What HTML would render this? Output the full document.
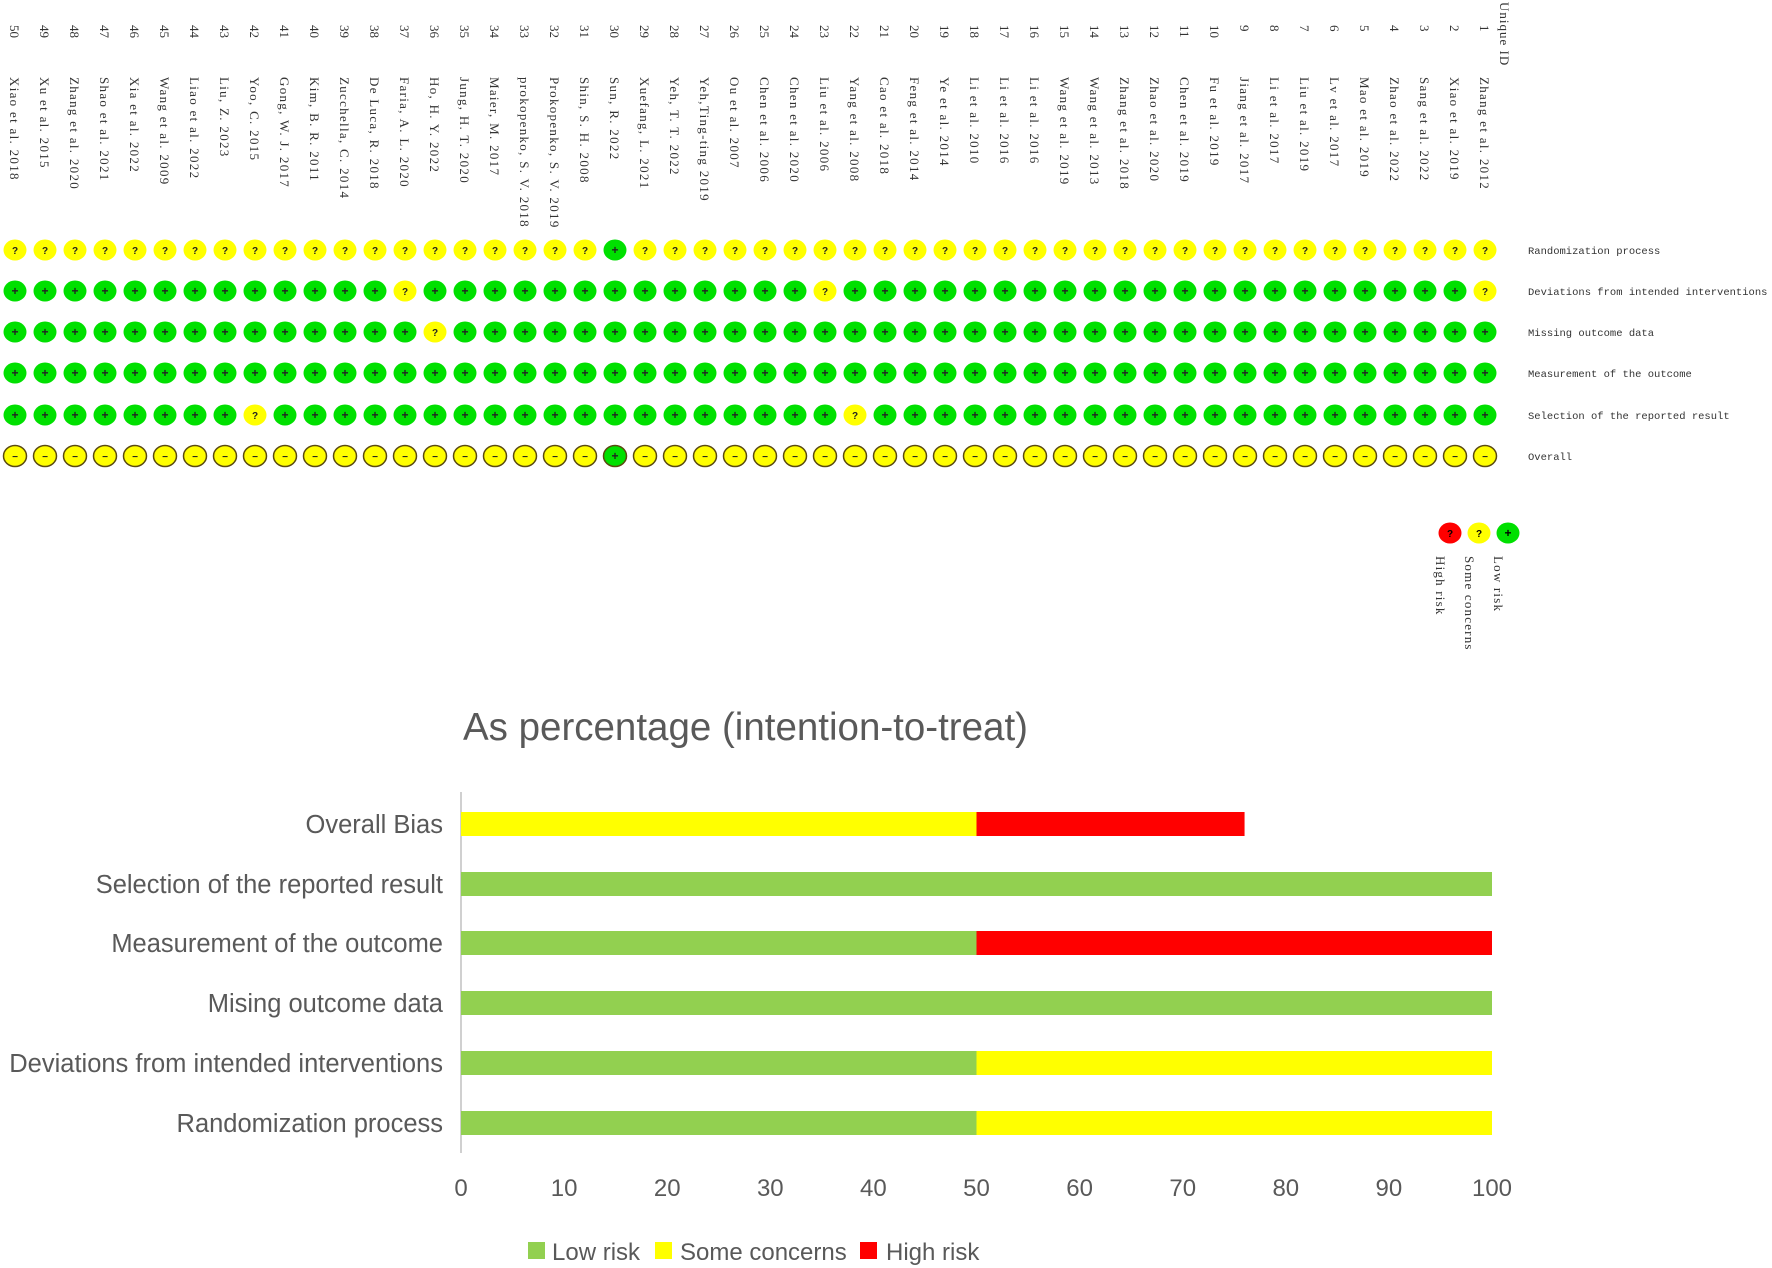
<!DOCTYPE html>
<html><head><meta charset="utf-8"><style>
html,body{margin:0;padding:0;background:#fff;}
svg{display:block;}
</style></head><body>
<svg id="s" width="1772" height="1268" xmlns="http://www.w3.org/2000/svg">
<rect width="1772" height="1268" fill="#fff"/>
<g id="topg"></g>
<g font-family="Liberation Mono, monospace" font-size="10.5" fill="#333">
<text x="1528" y="254">Randomization process</text>
<text x="1528" y="295">Deviations from intended interventions</text>
<text x="1528" y="336">Missing outcome data</text>
<text x="1528" y="377">Measurement of the outcome</text>
<text x="1528" y="419">Selection of the reported result</text>
<text x="1528" y="460">Overall</text>
</g>
<text transform="translate(1500,2) rotate(90)" font-family="Liberation Serif, serif" font-size="13" fill="#333" letter-spacing="1">Unique ID</text>
<ellipse cx="1450" cy="533" rx="11.5" ry="10.5" fill="#ff0000"/><text x="1450" y="537" text-anchor="middle" font-size="10" font-weight="bold" font-family="Liberation Sans">?</text>
<ellipse cx="1479" cy="533" rx="11.5" ry="10.5" fill="#ffff00"/><text x="1479" y="537" text-anchor="middle" font-size="10" font-weight="bold" font-family="Liberation Sans">?</text>
<ellipse cx="1508" cy="533" rx="11.5" ry="10.5" fill="#00e000"/><text x="1508" y="537" text-anchor="middle" font-size="12" font-weight="bold" font-family="Liberation Sans">+</text>
<g font-family="Liberation Serif, serif" font-size="13" fill="#333" letter-spacing="1.2">
<text transform="translate(1436,556) rotate(90)">High risk</text>
<text transform="translate(1465,556) rotate(90)">Some concerns</text>
<text transform="translate(1494,556) rotate(90)">Low risk</text>
</g>
<text x="463" y="740" font-family="Liberation Sans, sans-serif" font-size="38.5" fill="#595959">As percentage (intention-to-treat)</text>
<line x1="461" y1="792" x2="461" y2="1153" stroke="#d0d0d0" stroke-width="2"/>
<g id="bars"></g>
<g font-family="Liberation Sans, sans-serif" font-size="25.5" fill="#595959" text-anchor="end">
<text x="443" y="833">Overall Bias</text>
<text x="443" y="893">Selection of the reported result</text>
<text x="443" y="952">Measurement of the outcome</text>
<text x="443" y="1012">Mising outcome data</text>
<text x="443" y="1072">Deviations from intended interventions</text>
<text x="443" y="1132">Randomization process</text>
</g>
<g id="ticks" font-family="Liberation Sans, sans-serif" font-size="24" fill="#595959" text-anchor="middle"></g>
<g font-family="Liberation Sans, sans-serif" font-size="24" fill="#595959">
<rect x="528" y="1242" width="17" height="17" fill="#92d050"/><text x="552" y="1260">Low risk</text>
<rect x="655" y="1242" width="17" height="17" fill="#ffff00"/><text x="680" y="1260">Some concerns</text>
<rect x="860" y="1242" width="17" height="17" fill="#ff0000"/><text x="886" y="1260">High risk</text>
</g>
</svg>
<script>
(function(){
var NS="http://www.w3.org/2000/svg";
var names=["Zhang et al. 2012","Xiao et al. 2019","Sang et al. 2022","Zhao et al. 2022","Mao et al. 2019","Lv et al. 2017","Liu et al. 2019","Li et al. 2017","Jiang et al. 2017","Fu et al. 2019","Chen et al. 2019","Zhao et al. 2020","Zhang et al. 2018","Wang et al. 2013","Wang et al. 2019","Li et al. 2016","Li et al. 2016","Li et al. 2010","Ye et al. 2014","Feng et al. 2014","Cao et al. 2018","Yang et al. 2008","Liu et al. 2006","Chen et al. 2020","Chen et al. 2006","Ou et al. 2007","Yeh,Ting-ting 2019","Yeh, T. T. 2022","Xuefang, L. 2021","Sun, R. 2022","Shin, S. H. 2008","Prokopenko, S. V. 2019","prokopenko, S. V. 2018","Maier, M. 2017","Jung, H. T. 2020","Ho, H. Y. 2022","Faria, A. L. 2020","De Luca, R. 2018","Zucchella, C. 2014","Kim, B. R. 2011","Gong, W. J. 2017","Yoo, C. 2015","Liu, Z. 2023","Liao et al. 2022","Wang et al. 2009","Xia et al. 2022","Shao et al. 2021","Zhang et al. 2020","Xu et al. 2015","Xiao et al. 2018"];
var rows=[250,291,332,373,415,456];
var exc={"0_30":"g","1_1":"y","1_23":"y","1_37":"y","2_36":"y","4_22":"y","4_42":"y","5_30":"g"};
var tg=document.getElementById("topg");
function el(t,a,p,txt){var e=document.createElementNS(NS,t);for(var k in a)e.setAttribute(k,a[k]);if(txt!=null)e.textContent=txt;(p||tg).appendChild(e);return e;}
for(var i=1;i<=50;i++){
 var x=1485-(i-1)*30;
 el("text",{transform:"translate("+(x-5)+",25) rotate(90)","font-family":"Liberation Serif, serif","font-size":"13",fill:"#333"},null,String(i));
 el("text",{transform:"translate("+(x-5)+",77) rotate(90)","font-family":"Liberation Serif, serif","font-size":"13",fill:"#333","letter-spacing":"1.3"},null,names[i-1]);
 for(var r=0;r<6;r++){
  var y=rows[r];var d=(r==0||r==5)?"y":"g";var k=r+"_"+i;if(exc[k])d=exc[k];
  var fill=d=="g"?"#00e000":"#ffff00";
  var a={cx:x,cy:y,rx:11.5,ry:10.5,fill:fill};
  if(r==5){a.stroke="#5a4a10";a["stroke-width"]="1.5";}
  el("ellipse",a);
  var sym=d=="g"?"+":(r==5?"−":"?");
  el("text",{x:x,y:y+4,"text-anchor":"middle","font-family":"Liberation Sans, sans-serif","font-size":d=="g"?"12":"10","font-weight":"bold",fill:"#222"},null,sym);
 }
}
var bars=document.getElementById("bars");
var X0=461,S=10.31;
var data=[[824,[["#ffff00",0,50],["#ff0000",50,76]]],[884,[["#92d050",0,100]]],[943,[["#92d050",0,50],["#ff0000",50,100]]],[1003,[["#92d050",0,100]]],[1063,[["#92d050",0,50],["#ffff00",50,100]]],[1123,[["#92d050",0,50],["#ffff00",50,100]]]];
data.forEach(function(d){d[1].forEach(function(s){el("rect",{x:X0+s[1]*S,y:d[0]-12,width:(s[2]-s[1])*S,height:24,fill:s[0]},bars);});});
var tk=document.getElementById("ticks");
for(var v=0;v<=100;v+=10){el("text",{x:X0+v*S,y:1196},tk,String(v));}
})();
</script>
</body></html>
